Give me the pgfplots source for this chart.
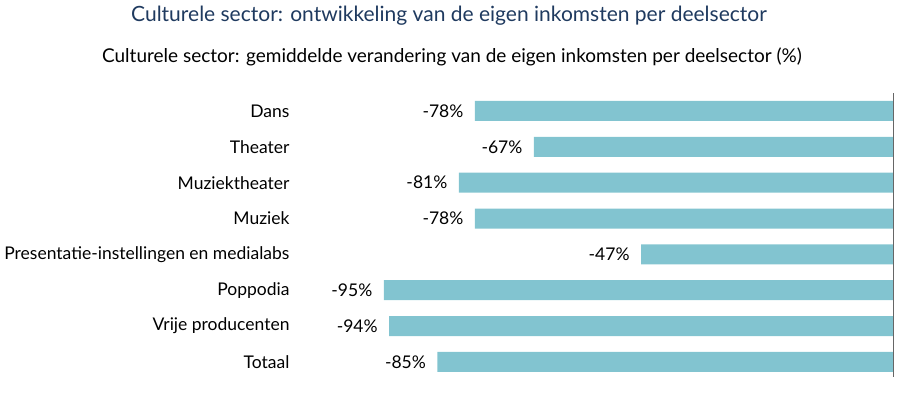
\documentclass[border=0pt]{standalone}
\usepackage{pgfplots}
\pgfplotsset{compat=1.18}
\usepackage{fontspec}
\setmainfont{Lato}
\definecolor{barcol}{HTML}{82C4D0}
\definecolor{titlecol}{HTML}{1F3A5F}
\begin{document}
\begin{tikzpicture}
\useasboundingbox (0,0) rectangle (900bp,398bp);
\node[anchor=base, text=titlecol, font=\fontsize{21bp}{24bp}\selectfont] at (449bp,376bp) {Culturele sector: ontwikkeling van de eigen inkomsten per deelsector};
\node[anchor=base, font=\fontsize{19bp}{22bp}\selectfont] at (452bp,335bp) {Culturele sector: gemiddelde verandering van de eigen inkomsten per deelsector (\%)};
\begin{axis}[
  at={(357bp,21bp)}, anchor=south west,
  scale only axis, width=536bp, height=284bp,
  xbar, bar width=20bp,
  xmin=-100, xmax=0,
  ymin=-0.5, ymax=7.42, y dir=reverse,
  axis line style={draw=none},
  xtick=\empty,
  ytick={0,...,7}, major tick length=0pt,
  yticklabels={Dans,Theater,Muziektheater,Muziek,Presentatie-instellingen en medialabs,Poppodia,Vrije producenten,Totaal},
  yticklabel style={font=\fontsize{17.5bp}{20bp}\selectfont, anchor=east, xshift=-64bp},
  nodes near coords={\pgfmathprintnumber[assume math mode=true]{\pgfplotspointmeta}\%},
  point meta=x,
  nodes near coords style={font=\fontsize{17.5bp}{20bp}\selectfont, anchor=east, xshift=-8bp},
  clip=false,
]
\addplot[fill=barcol, draw=none] coordinates {
(-78,0) (-67,1) (-81,2) (-78,3) (-47,4) (-95,5) (-94,6) (-85,7)};
\draw[gray!80!black, line width=0.8bp] (axis cs:0,-0.5) -- (axis cs:0,7.42);
\end{axis}
\end{tikzpicture}
\end{document}
